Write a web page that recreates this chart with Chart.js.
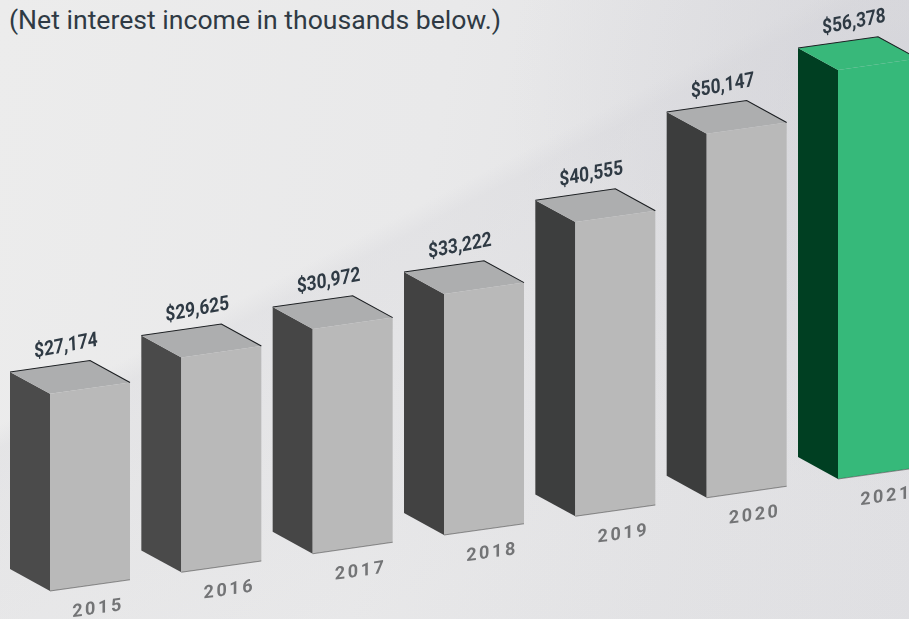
<!DOCTYPE html>
<html lang="en">
<head>
  <meta charset="UTF-8" />
  <title>Net interest income</title>
  <style>
    * { box-sizing: border-box; margin: 0; padding: 0; }
    html, body { width: 909px; height: 619px; overflow: hidden; }
    body {
      font-family: 'Roboto', sans-serif;
      position: relative;
      background:
        linear-gradient(152.4deg, rgba(255,255,255,0) 0 38.8%, rgba(208,208,214,0.26) 41%, rgba(208,208,214,0.04) 75%),
        radial-gradient(circle at 100% 15%, rgba(205,205,212,0.5) 0, rgba(205,205,212,0) 38%),
        linear-gradient(100deg, #ececec 0%, #e9e9ea 45%, #e3e3e5 75%, #e0e0e3 100%);
    }
    #note {
      position: absolute;
      left: 9px;
      top: 4px;
      font-size: 26.6px;
      line-height: 32px;
      color: #2f3a44;
      white-space: nowrap;
    }
    canvas { position: absolute; left: 0; top: 0; display: block; }
  </style>
</head>
<body>
  <div id="note">(Net interest income in thousands below.)</div>
  <canvas id="incomeChart" width="950" height="619"></canvas>

  <script src="https://cdn.jsdelivr.net/npm/chart.js"></script>
  <script>
    const years = ['2015', '2016', '2017', '2018', '2019', '2020', '2021'];
    const netInterestIncome = [27174, 29625, 30972, 33222, 40555, 50147, 56378];

    const frontColors = ['#b9b9b9', '#b9b9b9', '#b9b9b9', '#b9b9b9', '#b9b9b9', '#b9b9b9', '#36b97a'];
    const sideColors = ['#4b4b4b', '#4a4a4a', '#464646', '#424242', '#3d3e3e', '#3c3d3d', '#003f22'];
    const topColors = ['#adaeaf', '#adaeaf', '#adaeaf', '#adaeaf', '#adaeaf', '#adaeaf', '#38b87a'];

    // whole chart is sheared so the baseline climbs to the right
    const shear = 0.1421;
    const baseAt50 = 591;
    const depthX = -40;
    const depthY = -27.6; // -22 on screen once sheared

    const faces3d = {
      id: 'faces3d',
      beforeDraw(chart) {
        const ctx = chart.ctx;
        const k = baseAt50 - chart.chartArea.bottom + shear * 50;
        ctx.save();
        ctx.transform(1, -shear, 0, 1, 0, k);
        ctx.letterSpacing = '2.6px';
      },
      beforeDatasetsDraw(chart) {
        const ctx = chart.ctx;
        ctx.letterSpacing = '0px';
        chart.getDatasetMeta(0).data.forEach((bar, i) => {
          const left = bar.x - bar.width / 2;
          const right = bar.x + bar.width / 2;

          ctx.fillStyle = sideColors[i];
          ctx.beginPath();
          ctx.moveTo(left, bar.y);
          ctx.lineTo(left + depthX, bar.y + depthY);
          ctx.lineTo(left + depthX, bar.base + depthY);
          ctx.lineTo(left, bar.base);
          ctx.closePath();
          ctx.fill();

          ctx.fillStyle = topColors[i];
          ctx.beginPath();
          ctx.moveTo(left, bar.y);
          ctx.lineTo(left + depthX, bar.y + depthY);
          ctx.lineTo(right + depthX, bar.y + depthY);
          ctx.lineTo(right, bar.y);
          ctx.closePath();
          ctx.fill();
        });
      },
      afterDatasetsDraw(chart) {
        const ctx = chart.ctx;
        chart.getDatasetMeta(0).data.forEach((bar, i) => {
          const left = bar.x - bar.width / 2;
          const right = bar.x + bar.width / 2;

          // thin dark edges on the back of the top face
          ctx.strokeStyle = '#1c1f22';
          ctx.lineWidth = 1;
          ctx.beginPath();
          ctx.moveTo(left + depthX, bar.y + depthY);
          ctx.lineTo(right + depthX, bar.y + depthY);
          ctx.lineTo(right, bar.y);
          ctx.stroke();

          ctx.strokeStyle = 'rgba(60,60,60,0.55)';
          ctx.beginPath();
          ctx.moveTo(left, bar.base);
          ctx.lineTo(right, bar.base);
          ctx.stroke();

          ctx.save();
          ctx.translate(bar.x - 24, bar.y - 45);
          ctx.rotate(-0.05);
          ctx.scale(0.84, 1);
          ctx.font = 'bold 20.5px Roboto';
          ctx.fillStyle = '#2f3a44';
          ctx.textAlign = 'center';
          ctx.textBaseline = 'middle';
          ctx.fillText('$' + netInterestIncome[i].toLocaleString('en-US'), 0, 0);
          ctx.restore();
        });
        ctx.letterSpacing = '2.6px';
      },
      afterDraw(chart) {
        chart.ctx.letterSpacing = '0px';
        chart.ctx.restore();
      }
    };

    new Chart(document.getElementById('incomeChart'), {
      type: 'bar',
      data: {
        labels: years,
        datasets: [{
          data: netInterestIncome,
          backgroundColor: frontColors,
          borderWidth: 0,
          barPercentage: 1,
          categoryPercentage: 0.609
        }]
      },
      options: {
        responsive: false,
        animation: false,
        layout: { padding: { left: 24.33, right: 6.33, top: 10, bottom: 16 } },
        plugins: {
          legend: { display: false },
          tooltip: { enabled: false }
        },
        scales: {
          x: {
            grid: { display: false },
            border: { display: false },
            ticks: {
              color: '#737476',
              font: { family: 'Roboto', size: 18, weight: '700' },
              maxRotation: 0,
              autoSkip: false,
              padding: 6,
              labelOffset: 8
            }
          },
          y: {
            display: false,
            min: 0,
            max: 76000
          }
        }
      },
      plugins: [faces3d]
    });
  </script>
</body>
</html>
